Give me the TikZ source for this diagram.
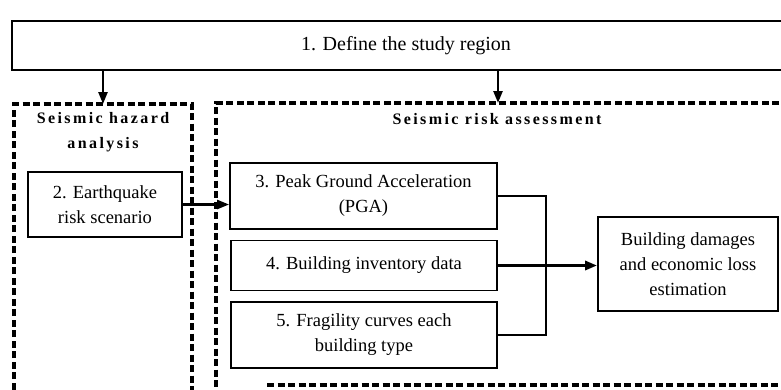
\documentclass[tikz,border=0pt]{standalone}
\usepackage{fontspec}
\setmainfont{Liberation Serif}
\newfontfamily\zonefont[LetterSpace=15]{Liberation Serif}
\usetikzlibrary{arrows.meta}

\begin{document}
\begin{tikzpicture}[x=1pt,y=-1pt,
        box/.style={draw, line width=1.8pt, inner sep=0pt, align=center, font=\fontsize{18.5}{25}\selectfont},
        zone/.style={line width=3.2pt, dash pattern=on 7pt off 3.5pt},
        zonetitle/.style={align=center, font=\zonefont\bfseries\fontsize{16}{25}\selectfont},
        arr/.style={-{Triangle[length=12pt,width=9pt]}, line width=2.4pt}]
        \clip (0,0) rectangle (781,389);
        \node[box, minimum width=788pt, minimum height=49pt, font=\fontsize{20}{24}\selectfont] (region) at (406,45.5) {1. Define the study region};
        % dashed zones
        \draw[zone] (14,400) |- (192,104) -- (192,400);
        \draw[zone] (800,103) -| (216,392);
        \draw[zone] (267,385) -- (800,385);
        \node[zonetitle] (hazard) at (103,132) {Seismic hazard\\analysis};
        \node[zonetitle] (risk) at (497,119) {Seismic risk assessment};
        \coordinate (hazardtop) at (103,104);
        \coordinate (risktop) at (498,103);
        \draw[arr] (region.south -| hazardtop) -- (hazardtop);
        \draw[arr] (region.south -| risktop) -- (risktop);
        % boxes
        \node[box, minimum width=154pt, minimum height=65pt] (quake) at (105,204.5) {2. Earthquake\\risk scenario};
        \node[box, minimum width=267pt, minimum height=66pt] (pga) at (363.5,196) {3. Peak Ground Acceleration\\(PGA)};
        \node[box, minimum width=266pt, minimum height=50pt] (inventory) at (364,265.5) {4. Building inventory data};
        \node[box, minimum width=266pt, minimum height=66pt] (fragility) at (364,335) {5. Fragility curves each\\building type};
        \node[box, minimum width=180pt, minimum height=94pt] (loss) at (688,264) {Building damages\\and economic loss\\estimation};
        \draw[arr] (quake.east) -- (quake.east -| pga.west);
        \draw[line width=2pt] (pga.east) -- ++(48,0) |- (fragility.east);
        \draw[arr, line width=3pt] (inventory.east) -- (inventory.east -| loss.west);
    \end{tikzpicture}
\end{document}
